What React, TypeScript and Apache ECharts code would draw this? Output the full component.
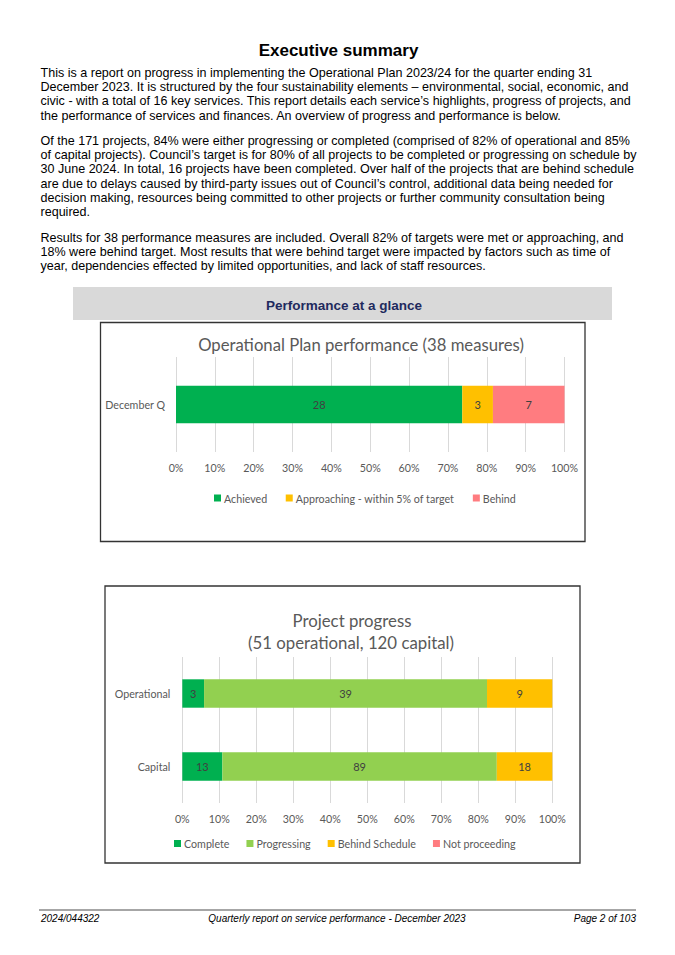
import React, { useEffect, useRef } from "react";
import * as echarts from "echarts";

// ---------- Data ----------
const perfCategories = ["December Q"];
const perfAchieved = [28];
const perfApproaching = [3];
const perfBehind = [7];

const projCategories = ["Operational", "Capital"];
const projComplete = [3, 13];
const projProgressing = [39, 89];
const projBehindSchedule = [9, 18];
const projNotProceeding = [0, 0];

const percentTicks = [0, 10, 20, 30, 40, 50, 60, 70, 80, 90, 100];

const pageTitle = "Executive summary";
const para1 = [
  "This is a report on progress in implementing the Operational Plan 2023/24 for the quarter ending 31",
  "December 2023. It is structured by the four sustainability elements \u2013 environmental, social, economic, and",
  "civic - with a total of 16 key services. This report details each service\u2019s highlights, progress of projects, and",
  "the performance of services and finances. An overview of progress and performance is below.",
];
const para2 = [
  "Of the 171 projects, 84% were either progressing or completed (comprised of 82% of operational and 85%",
  "of capital projects). Council\u2019s target is for 80% of all projects to be completed or progressing on schedule by",
  "30 June 2024. In total, 16 projects have been completed. Over half of the projects that are behind schedule",
  "are due to delays caused by third-party issues out of Council\u2019s control, additional data being needed for",
  "decision making, resources being committed to other projects or further community consultation being",
  "required.",
];
const para3 = [
  "Results for 38 performance measures are included. Overall 82% of targets were met or approaching, and",
  "18% were behind target. Most results that were behind target were impacted by factors such as time of",
  "year, dependencies effected by limited opportunities, and lack of staff resources.",
];
const bandTitle = "Performance at a glance";
const chart1Title = "Operational Plan performance (38 measures)";
const chart2Title = ["Project progress", "(51 operational, 120 capital)"];
const footerLeft = "2024/044322";
const footerMid = "Quarterly report on service performance - December 2023";
const footerRight = "Page 2 of 103";

// ---------- Styles ----------
const BODY_FONT = "'Liberation Sans', Arial, sans-serif";
const CHART_FONT = "Lato, 'Open Sans', sans-serif";
const GREEN = "#00b050";
const LIGHT_GREEN = "#92d050";
const AMBER = "#ffc000";
const PINK = "#ff7c80";
const LABEL_GRAY = "#595959";
const DATA_GRAY = "#404040";
const SMALL = 10.7;

function textEl(text: string, x: number, y: number, font: string, fill: string, align = "left") {
  return {
    type: "text",
    x,
    y,
    silent: true,
    style: {
      text,
      font,
      fill,
      textAlign: align,
      textVerticalAlign: "middle",
    },
  };
}

export default function App() {
  const ref = useRef<HTMLDivElement>(null);

  useEffect(() => {
    if (!ref.current) return;
    const chart = echarts.init(ref.current, undefined, { renderer: "svg" });

    const perfTotals = perfCategories.map(
      (_, i) => perfAchieved[i] + perfApproaching[i] + perfBehind[i]
    );
    const projTotals = projCategories.map(
      (_, i) =>
        projComplete[i] + projProgressing[i] + projBehindSchedule[i] + projNotProceeding[i]
    );

    const labelCfg = {
      show: true,
      position: "inside",
      color: DATA_GRAY,
      fontFamily: CHART_FONT,
      fontSize: 11,
      formatter: (p: any) => (p.data && p.data.count ? String(p.data.count) : ""),
    };

    const perfDefs = [
      { name: "Achieved", values: perfAchieved, color: GREEN },
      { name: "Approaching - within 5% of target", values: perfApproaching, color: AMBER },
      { name: "Behind", values: perfBehind, color: PINK },
    ];
    const projDefs = [
      { name: "Complete", values: projComplete, color: GREEN },
      { name: "Progressing", values: projProgressing, color: LIGHT_GREEN },
      { name: "Behind Schedule", values: projBehindSchedule, color: AMBER },
      { name: "Not proceeding", values: projNotProceeding, color: PINK },
    ];

    const series: any[] = [
      ...perfDefs.map((d) => ({
        type: "bar",
        name: d.name,
        stack: "perf",
        xAxisIndex: 0,
        yAxisIndex: 0,
        barWidth: 37.6,
        itemStyle: { color: d.color },
        label: labelCfg,
        data: d.values.map((v, i) => ({ value: (v / perfTotals[i]) * 100, count: v })),
      })),
      ...projDefs.map((d) => ({
        type: "bar",
        name: d.name,
        stack: "proj",
        xAxisIndex: 1,
        yAxisIndex: 1,
        barWidth: 28.4,
        itemStyle: { color: d.color },
        label: labelCfg,
        data: d.values.map((v, i) => ({ value: (v / projTotals[i]) * 100, count: v })),
      })),
    ];

    const xAxisBase = {
      type: "value",
      min: 0,
      max: 100,
      interval: 10,
      axisLine: { show: false },
      axisTick: { show: false },
      splitLine: { show: true, lineStyle: { color: "#d9d9d9", width: 1 } },
      axisLabel: {
        color: LABEL_GRAY,
        fontFamily: CHART_FONT,
        fontSize: SMALL,
        formatter: (v: number) => (percentTicks.includes(v) ? v + "%" : ""),
      },
    };
    const yAxisBase = {
      type: "category",
      axisLine: { show: false },
      axisTick: { show: false },
      splitLine: { show: false },
      axisLabel: { color: LABEL_GRAY, fontFamily: CHART_FONT, fontSize: SMALL },
    };

    const graphics: any[] = [];
    // page title
    graphics.push(textEl(pageTitle, 338.5, 50, `bold 17px ${BODY_FONT}`, "#000", "center"));
    const bodyFont = `12.55px ${BODY_FONT}`;
    const LH = 14.2;
    para1.forEach((t, i) => graphics.push(textEl(t, 40.5, 73 + i * LH, bodyFont, "#000")));
    para2.forEach((t, i) => graphics.push(textEl(t, 40.5, 141 + i * LH, bodyFont, "#000")));
    para3.forEach((t, i) => graphics.push(textEl(t, 40.5, 237.5 + i * LH, bodyFont, "#000")));

    // band
    graphics.push({
      type: "rect",
      silent: true,
      shape: { x: 73, y: 287, width: 539, height: 33 },
      style: { fill: "#d9d9d9" },
      z: -10,
    });
    graphics.push(textEl(bandTitle, 344, 305.5, `bold 13.5px ${BODY_FONT}`, "#1f2a5e", "center"));

    // chart 1 box
    graphics.push({
      type: "rect",
      silent: true,
      shape: { x: 100.5, y: 322.5, width: 484.5, height: 219 },
      style: { fill: "none", stroke: "#333", lineWidth: 1.3 },
      z: -5,
    });
    graphics.push(textEl(chart1Title, 361, 345, `16.7px ${CHART_FONT}`, LABEL_GRAY, "center"));

    // chart 2 box
    graphics.push({
      type: "rect",
      silent: true,
      shape: { x: 105, y: 586, width: 475, height: 277 },
      style: { fill: "none", stroke: "#333", lineWidth: 1.3 },
      z: -5,
    });
    graphics.push(textEl(chart2Title[0], 352, 620, `16.8px ${CHART_FONT}`, LABEL_GRAY, "center"));
    graphics.push(textEl(chart2Title[1], 351, 642.5, `16.8px ${CHART_FONT}`, LABEL_GRAY, "center"));

    // footer
    graphics.push({
      type: "line",
      silent: true,
      shape: { x1: 39, y1: 910, x2: 636, y2: 910 },
      style: { stroke: "#a6a6a6", lineWidth: 2 },
    });
    const footFont = `italic 10px ${BODY_FONT}`;
    graphics.push(textEl(footerLeft, 41, 918, footFont, "#000", "left"));
    graphics.push(textEl(footerMid, 337, 918, footFont, "#000", "center"));
    graphics.push(textEl(footerRight, 636, 918, footFont, "#000", "right"));

    const legendBase = {
      orient: "horizontal",
      icon: "rect",
      itemWidth: 7,
      itemHeight: 7,
      padding: 0,
      selectedMode: false,
      textStyle: { color: LABEL_GRAY, fontFamily: CHART_FONT, fontSize: SMALL, padding: [0, 0, 0, -2] },
    };

    chart.setOption({
      animation: false,
      backgroundColor: "#fff",
      grid: [
        { left: 176, top: 357, width: 388.5, height: 95, containLabel: false },
        { left: 182.3, top: 657, width: 370, height: 146, containLabel: false },
      ],
      xAxis: [
        { ...xAxisBase, gridIndex: 0, axisLabel: { ...xAxisBase.axisLabel, margin: 10 } },
        { ...xAxisBase, gridIndex: 1, axisLabel: { ...xAxisBase.axisLabel, margin: 10 } },
      ],
      yAxis: [
        { ...yAxisBase, gridIndex: 0, data: perfCategories, axisLabel: { ...yAxisBase.axisLabel, margin: 11 } },
        {
          ...yAxisBase,
          gridIndex: 1,
          inverse: true,
          data: projCategories,
          axisLabel: { ...yAxisBase.axisLabel, margin: 12 },
        },
      ],
      legend: [
        { ...legendBase, itemGap: 18.5, left: 214, top: 492.5, data: perfDefs.map((d) => d.name) },
        { ...legendBase, itemGap: 17, left: 174, top: 838, data: projDefs.map((d) => d.name) },
      ],
      graphic: { elements: graphics },
      series,
    });

    return () => {
      chart.dispose();
    };
  }, []);

  return (
    <div
      ref={ref}
      style={{ position: "absolute", left: 0, top: 0, width: 675, height: 955, background: "#fff" }}
    />
  );
}
